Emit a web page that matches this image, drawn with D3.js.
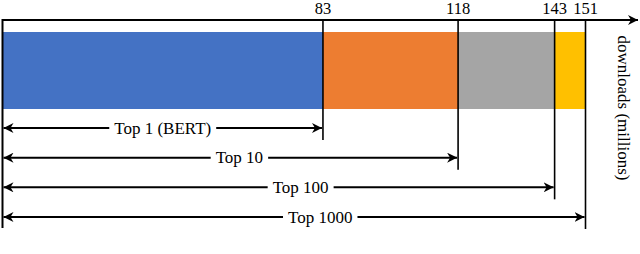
<!DOCTYPE html>
<html>
<head>
<meta charset="utf-8">
<script src="https://cdnjs.cloudflare.com/ajax/libs/d3/7.8.5/d3.min.js"></script>
<style>
  body { margin: 0; background: #fff; }
</style>
</head>
<body>
<div id="chart"></div>
<script>
// cumulative downloads (millions) for the top-k models
var groups = ["Top 1 (BERT)", "Top 10", "Top 100", "Top 1000"];
var downloads = [83, 118, 143, 151];
var colors = ["#4472C4", "#ED7D31", "#A5A5A5", "#FFC000"];
var axisLabel = "downloads (millions)";

var width = 640, height = 254;
var serif = "'Liberation Serif', 'Times New Roman', serif";

var svg = d3.select("#chart").append("svg")
    .attr("width", width)
    .attr("height", height)
    .attr("font-family", serif);

var x = d3.scaleLinear().domain([0, 151]).range([2.5, 585.5]);
var rowY = d3.scalePoint().domain(groups).range([128, 217]);

var axisY = 20, barTop = 32, barBottom = 109;

// arrowheads
var defs = svg.append("defs");
defs.append("marker")
    .attr("id", "head")
    .attr("viewBox", "0 0 10 10")
    .attr("refX", 10).attr("refY", 5)
    .attr("markerWidth", 10).attr("markerHeight", 10)
    .attr("markerUnits", "userSpaceOnUse")
    .attr("orient", "auto")
  .append("path")
    .attr("d", "M0,0 L10,5 L0,10 L3,5 Z")
    .attr("fill", "#000");

// stacked segments
var starts = [0].concat(downloads.slice(0, -1));
svg.append("g").selectAll("rect")
  .data(downloads)
  .enter().append("rect")
    .attr("x", function(d, i) { return x(starts[i]); })
    .attr("y", barTop)
    .attr("width", function(d, i) { return x(d) - x(starts[i]); })
    .attr("height", barBottom - barTop)
    .attr("fill", function(d, i) { return colors[i]; });

// top axis with arrow
svg.append("line")
    .attr("x1", x(0)).attr("x2", width - 2)
    .attr("y1", axisY).attr("y2", axisY)
    .attr("stroke", "#000").attr("stroke-width", 2)
    .attr("marker-end", "url(#head)");

// left zero line
svg.append("line")
    .attr("x1", x(0)).attr("x2", x(0))
    .attr("y1", axisY - 1).attr("y2", 228)
    .attr("stroke", "#000").attr("stroke-width", 2);

// drop lines at each cumulative value
svg.append("g").selectAll("line")
  .data(downloads)
  .enter().append("line")
    .attr("x1", function(d) { return x(d); })
    .attr("x2", function(d) { return x(d); })
    .attr("y1", axisY)
    .attr("y2", function(d, i) { return rowY(groups[i]) + 12; })
    .attr("stroke", "#000").attr("stroke-width", 1.6);

// tick values
svg.append("g").selectAll("text")
  .data(downloads)
  .enter().append("text")
    .attr("x", function(d) { return x(d); })
    .attr("y", 14)
    .attr("text-anchor", "middle")
    .attr("font-family", serif)
    .attr("font-size", 16.5)
    .text(function(d) { return d; });

// span arrows with labels
var labelPos = [0.5, 0.52, 0.54, 0.545];   // label centre as share of the span
var pad = 5;
var rows = svg.append("g").selectAll("g")
  .data(downloads)
  .enter().append("g");

rows.each(function(d, i) {
  var g = d3.select(this);
  var y = rowY(groups[i]);
  var t = g.append("text")
      .attr("x", x(0) + (x(d) - x(0)) * labelPos[i])
      .attr("y", y + 5.5)
      .attr("text-anchor", "middle")
      .attr("font-family", serif)
      .attr("font-size", 17)
      .text(groups[i]);
  var bb = t.node().getBBox();
  g.insert("line", "text")
      .attr("x1", bb.x - pad).attr("x2", x(0) + 1)
      .attr("y1", y).attr("y2", y)
      .attr("stroke", "#000").attr("stroke-width", 2)
      .attr("marker-end", "url(#head)");
  g.insert("line", "text")
      .attr("x1", bb.x + bb.width + pad).attr("x2", x(d) - 1)
      .attr("y1", y).attr("y2", y)
      .attr("stroke", "#000").attr("stroke-width", 2)
      .attr("marker-end", "url(#head)");
});

// axis title, rotated
svg.append("text")
    .attr("transform", "translate(618,108) rotate(90)")
    .attr("text-anchor", "middle")
    .attr("font-family", serif)
    .attr("font-size", 17)
    .text(axisLabel);
</script>
</body>
</html>
